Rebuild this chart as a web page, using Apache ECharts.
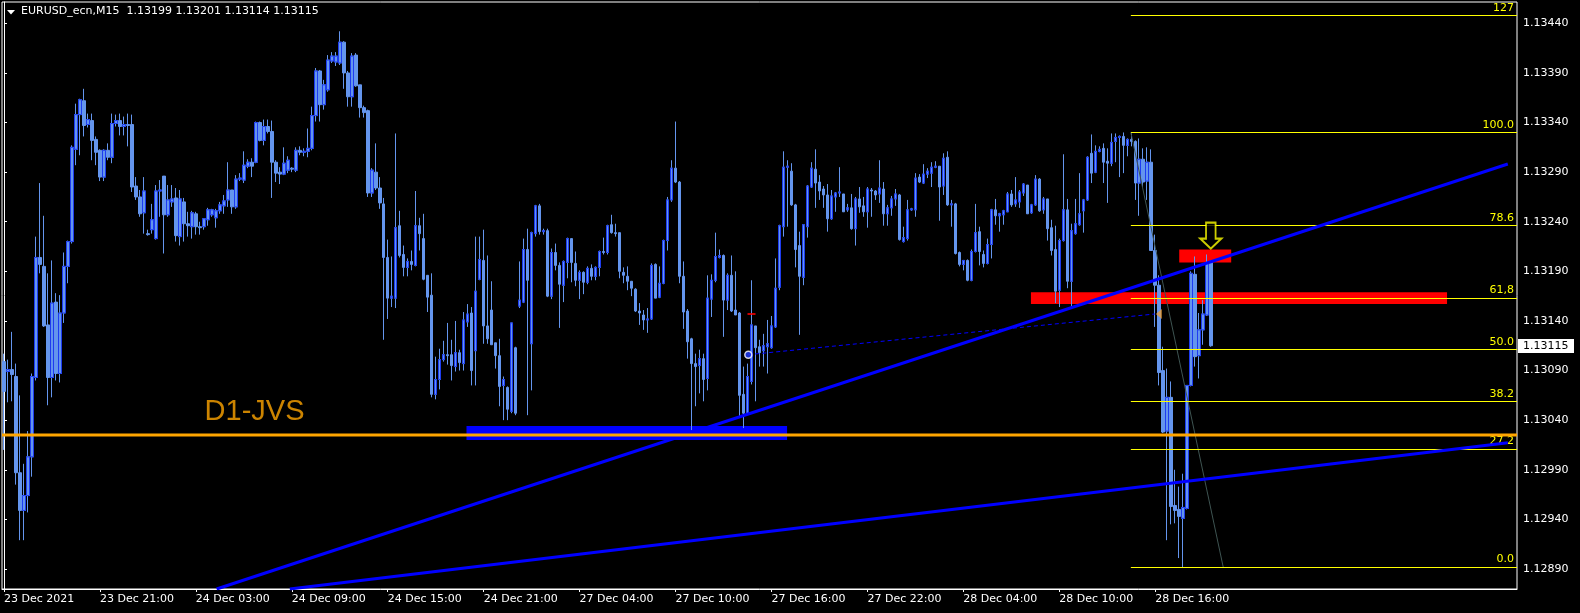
<!DOCTYPE html>
<html>
<head>
<meta charset="utf-8">
<script src="https://cdn.jsdelivr.net/npm/echarts@6/dist/echarts.min.js"></script>
<style>
html,body{margin:0;padding:0;background:#000;overflow:hidden;}
#c{width:1580px;height:613px;}
</style>
</head>
<body>
<div id="c"></div>
<script>
// ---------------- DATA ----------------
const symbolTitle = 'EURUSD_ecn,M15  1.13199 1.13201 1.13114 1.13115';
const timeLabels = ['23 Dec 2021','23 Dec 21:00','24 Dec 03:00','24 Dec 09:00','24 Dec 15:00','24 Dec 21:00',
  '27 Dec 04:00','27 Dec 10:00','27 Dec 16:00','27 Dec 22:00','28 Dec 04:00','28 Dec 10:00','28 Dec 16:00'];
const barsPerLabel = 24;
const totalSlots = 379;
const priceTicks = [1.12890,1.12940,1.12990,1.13040,1.13090,1.13140,1.13190,1.13240,1.13290,1.13340,1.13390,1.13440];
const priceMin = 1.128698;
const priceMax = 1.134615;

const openP = [
1.13099,1.13089,1.13091,1.13084,1.12987,1.12949,1.12964,1.13003,1.13083,1.13204,
1.13195,1.13136,1.13083,1.13159,1.13087,1.13148,1.13195,1.13220,1.13313,1.13348,
1.13362,1.13338,1.13342,1.13323,1.13312,1.13285,1.13312,1.13305,1.13339,1.13342,
1.13336,1.13338,1.13338,1.13276,1.13265,1.13249,1.13228,1.13232,1.13223,1.13271,
1.13286,1.13247,1.13260,1.13264,1.13225,1.13260,1.13238,1.13235,1.13248,1.13235,
1.13235,1.13242,1.13247,1.13244,1.13251,1.13256,1.13262,1.13272,1.13255,1.13283,
1.13282,1.13296,1.13300,1.13300,1.13340,1.13322,1.13336,1.13331,1.13300,1.13290,
1.13288,1.13292,1.13294,1.13292,1.13312,1.13310,1.13311,1.13314,1.13347,1.13392,
1.13358,1.13373,1.13402,1.13401,1.13400,1.13421,1.13390,1.13366,1.13408,1.13378,
1.13355,1.13352,1.13269,1.13290,1.13274,1.13258,1.13204,1.13163,1.13163,1.13236,
1.13207,1.13194,1.13200,1.13196,1.13236,1.13223,1.13186,1.13166,1.13066,1.13081,
1.13101,1.13106,1.13106,1.13094,1.13108,1.13097,1.13139,1.13148,1.13110,1.13182,
1.13201,1.13135,1.13151,1.13118,1.13105,1.13075,1.13073,1.13049,1.13113,1.13155,
1.13159,1.13212,1.13117,1.13228,1.13256,1.13230,1.13231,1.13165,1.13209,1.13196,
1.13176,1.13199,1.13223,1.13198,1.13181,1.13189,1.13179,1.13193,1.13185,1.13194,
1.13210,1.13209,1.13237,1.13229,1.13229,1.13189,1.13185,1.13180,1.13172,1.13150,
1.13146,1.13141,1.13142,1.13197,1.13164,1.13178,1.13221,1.13262,1.13294,1.13280,
1.13185,1.13150,1.13122,1.13097,1.13095,1.13102,1.13082,1.13162,1.13181,1.13204,
1.13206,1.13161,1.13186,1.13151,1.13148,1.13066,1.13047,1.13079,1.13135,1.13114,
1.13110,1.13114,1.13113,1.13134,1.13174,1.13235,1.13295,1.13291,1.13257,1.13216,
1.13184,1.13235,1.13275,1.13293,1.13280,1.13273,1.13267,1.13243,1.13265,1.13269,
1.13268,1.13252,1.13254,1.13233,1.13263,1.13256,1.13250,1.13272,1.13271,1.13268,
1.13273,1.13248,1.13254,1.13263,1.13267,1.13220,1.13223,1.13252,1.13252,1.13285,
1.13279,1.13288,1.13289,1.13295,1.13296,1.13276,1.13305,1.13257,1.13258,1.13209,
1.13197,1.13201,1.13181,1.13210,1.13230,1.13207,1.13198,1.13217,1.13252,1.13246,
1.13247,1.13250,1.13268,1.13258,1.13260,1.13269,1.13277,1.13249,1.13257,1.13283,
1.13252,1.13263,1.13234,1.13212,1.13171,1.13221,1.13252,1.13180,1.13228,1.13237,
1.13251,1.13262,1.13309,1.13290,1.13311,1.13314,1.13301,1.13299,1.13321,1.13325,
1.13326,1.13317,1.13323,1.13321,1.13279,1.13303,1.13281,1.13300,1.13211,1.13176,
1.13090,1.13029,1.13063,1.12954,1.12950,1.12941,1.12951,1.13075,1.13187,1.13105,
1.13131,1.13146,1.13199];

const closeP = [
1.13069,1.13091,1.13086,1.12987,1.12949,1.12964,1.13003,1.13084,1.13204,1.13197,
1.13135,1.13083,1.13158,1.13087,1.13148,1.13195,1.13220,1.13315,1.13348,1.13363,
1.13337,1.13343,1.13322,1.13310,1.13285,1.13312,1.13305,1.13339,1.13342,1.13336,
1.13338,1.13337,1.13275,1.13265,1.13248,1.13271,1.13227,1.13242,1.13271,1.13272,
1.13247,1.13262,1.13263,1.13226,1.13263,1.13238,1.13236,1.13249,1.13235,1.13234,
1.13243,1.13252,1.13252,1.13251,1.13257,1.13261,1.13272,1.13255,1.13283,1.13284,
1.13297,1.13300,1.13296,1.13340,1.13322,1.13336,1.13331,1.13300,1.13289,1.13288,
1.13299,1.13302,1.13293,1.13312,1.13310,1.13311,1.13314,1.13347,1.13392,1.13358,
1.13378,1.13403,1.13407,1.13407,1.13421,1.13390,1.13366,1.13407,1.13377,1.13355,
1.13350,1.13269,1.13292,1.13274,1.13259,1.13204,1.13163,1.13165,1.13234,1.13206,
1.13194,1.13200,1.13197,1.13236,1.13228,1.13182,1.13164,1.13066,1.13081,1.13101,
1.13106,1.13105,1.13095,1.13108,1.13098,1.13141,1.13147,1.13090,1.13170,1.13202,
1.13135,1.13122,1.13116,1.13105,1.13074,1.13081,1.13051,1.13138,1.13047,1.13161,
1.13212,1.13181,1.13229,1.13256,1.13230,1.13231,1.13165,1.13209,1.13196,1.13177,
1.13200,1.13223,1.13199,1.13181,1.13189,1.13179,1.13193,1.13185,1.13194,1.13210,
1.13209,1.13236,1.13229,1.13228,1.13190,1.13186,1.13180,1.13173,1.13150,1.13148,
1.13141,1.13142,1.13196,1.13163,1.13178,1.13221,1.13262,1.13294,1.13280,1.13185,
1.13149,1.13119,1.13097,1.13094,1.13102,1.13081,1.13163,1.13181,1.13205,1.13206,
1.13161,1.13186,1.13150,1.13146,1.13065,1.13047,1.13084,1.13136,1.13113,1.13108,
1.13115,1.13117,1.13135,1.13173,1.13236,1.13295,1.13296,1.13257,1.13212,1.13185,
1.13237,1.13276,1.13294,1.13279,1.13271,1.13267,1.13243,1.13266,1.13269,1.13270,
1.13250,1.13254,1.13233,1.13263,1.13255,1.13250,1.13273,1.13271,1.13267,1.13274,
1.13248,1.13254,1.13263,1.13268,1.13222,1.13224,1.13252,1.13253,1.13284,1.13280,
1.13288,1.13291,1.13295,1.13296,1.13275,1.13304,1.13257,1.13258,1.13208,1.13197,
1.13201,1.13181,1.13210,1.13229,1.13210,1.13198,1.13217,1.13252,1.13246,1.13248,
1.13251,1.13268,1.13257,1.13262,1.13270,1.13278,1.13248,1.13257,1.13283,1.13251,
1.13263,1.13233,1.13211,1.13170,1.13221,1.13252,1.13180,1.13231,1.13238,1.13248,
1.13262,1.13305,1.13289,1.13311,1.13313,1.13300,1.13299,1.13320,1.13325,1.13326,
1.13317,1.13323,1.13321,1.13279,1.13303,1.13280,1.13300,1.13211,1.13176,1.13088,
1.13028,1.13063,1.12953,1.12949,1.12943,1.12952,1.13075,1.13188,1.13104,1.13131,
1.13147,1.13198,1.13115];

const lowP = [
1.13010,1.13058,1.13059,1.12975,1.12919,1.12919,1.12947,1.12983,1.13080,1.13188,
1.13134,1.13055,1.13063,1.13080,1.13078,1.13138,1.13178,1.13218,1.13297,1.13307,
1.13326,1.13335,1.13302,1.13297,1.13281,1.13281,1.13302,1.13299,1.13336,1.13327,
1.13327,1.13316,1.13270,1.13262,1.13245,1.13228,1.13226,1.13228,1.13222,1.13245,
1.13208,1.13245,1.13255,1.13220,1.13216,1.13220,1.13225,1.13223,1.13227,1.13227,
1.13232,1.13236,1.13245,1.13234,1.13248,1.13248,1.13255,1.13248,1.13253,1.13281,
1.13279,1.13294,1.13285,1.13299,1.13321,1.13317,1.13329,1.13264,1.13280,1.13278,
1.13287,1.13289,1.13290,1.13290,1.13307,1.13306,1.13305,1.13312,1.13341,1.13341,
1.13353,1.13371,1.13400,1.13397,1.13398,1.13374,1.13356,1.13356,1.13376,1.13345,
1.13345,1.13265,1.13265,1.13272,1.13253,1.13121,1.13142,1.13154,1.13153,1.13204,
1.13185,1.13185,1.13191,1.13195,1.13211,1.13181,1.13149,1.13063,1.13061,1.13071,
1.13099,1.13096,1.13080,1.13089,1.13090,1.13090,1.13134,1.13075,1.13075,1.13181,
1.13117,1.13117,1.13116,1.13092,1.13054,1.13040,1.13040,1.13047,1.13045,1.13153,
1.13158,1.13045,1.13070,1.13225,1.13227,1.13227,1.13164,1.13162,1.13191,1.13133,
1.13159,1.13183,1.13179,1.13175,1.13162,1.13167,1.13177,1.13181,1.13181,1.13185,
1.13207,1.13207,1.13228,1.13225,1.13183,1.13178,1.13171,1.13165,1.13149,1.13136,
1.13131,1.13128,1.13141,1.13163,1.13163,1.13177,1.13211,1.13260,1.13279,1.13178,
1.13132,1.13102,1.13030,1.13054,1.13067,1.13059,1.13070,1.13144,1.13179,1.13203,
1.13124,1.13151,1.13149,1.13146,1.13043,1.13032,1.13047,1.13076,1.13059,1.13094,
1.13094,1.13087,1.13112,1.13133,1.13171,1.13225,1.13235,1.13256,1.13194,1.13126,
1.13176,1.13224,1.13274,1.13254,1.13262,1.13254,1.13230,1.13242,1.13250,1.13265,
1.13250,1.13250,1.13232,1.13216,1.13249,1.13245,1.13234,1.13245,1.13262,1.13259,
1.13236,1.13236,1.13246,1.13256,1.13221,1.13219,1.13221,1.13251,1.13245,1.13279,
1.13278,1.13284,1.13275,1.13294,1.13241,1.13267,1.13256,1.13235,1.13207,1.13195,
1.13191,1.13180,1.13180,1.13209,1.13196,1.13194,1.13197,1.13203,1.13237,1.13230,
1.13237,1.13250,1.13255,1.13255,1.13254,1.13266,1.13248,1.13248,1.13256,1.13250,
1.13248,1.13221,1.13206,1.13158,1.13154,1.13220,1.13173,1.13154,1.13227,1.13236,
1.13229,1.13261,1.13279,1.13289,1.13310,1.13279,1.13259,1.13296,1.13300,1.13285,
1.13289,1.13306,1.13316,1.13262,1.13246,1.13275,1.13262,1.13211,1.13134,1.13075,
1.13027,1.12919,1.12935,1.12936,1.12901,1.12892,1.12950,1.13074,1.13094,1.13082,
1.13116,1.13145,1.13114];

const highP = [
1.13107,1.13101,1.13129,1.13097,1.13065,1.12996,1.13029,1.13087,1.13225,1.13279,
1.13246,1.13188,1.13201,1.13168,1.13166,1.13209,1.13221,1.13317,1.13359,1.13364,
1.13374,1.13349,1.13349,1.13326,1.13313,1.13313,1.13319,1.13349,1.13348,1.13349,
1.13346,1.13349,1.13348,1.13285,1.13272,1.13285,1.13232,1.13258,1.13277,1.13282,
1.13286,1.13277,1.13277,1.13274,1.13272,1.13264,1.13250,1.13251,1.13250,1.13240,
1.13243,1.13254,1.13253,1.13253,1.13260,1.13267,1.13300,1.13272,1.13287,1.13289,
1.13311,1.13303,1.13304,1.13341,1.13341,1.13343,1.13343,1.13342,1.13302,1.13295,
1.13315,1.13306,1.13295,1.13315,1.13316,1.13314,1.13334,1.13356,1.13395,1.13393,
1.13383,1.13408,1.13411,1.13411,1.13432,1.13422,1.13392,1.13410,1.13410,1.13378,
1.13357,1.13353,1.13294,1.13319,1.13285,1.13264,1.13222,1.13205,1.13329,1.13251,
1.13216,1.13203,1.13211,1.13271,1.13244,1.13248,1.13186,1.13188,1.13104,1.13112,
1.13120,1.13138,1.13121,1.13140,1.13111,1.13149,1.13157,1.13154,1.13225,1.13225,
1.13232,1.13206,1.13180,1.13118,1.13122,1.13084,1.13074,1.13138,1.13114,1.13200,
1.13223,1.13233,1.13230,1.13257,1.13258,1.13233,1.13233,1.13213,1.13218,1.13199,
1.13201,1.13224,1.13223,1.13210,1.13191,1.13190,1.13195,1.13197,1.13195,1.13211,
1.13224,1.13237,1.13247,1.13238,1.13229,1.13194,1.13195,1.13180,1.13173,1.13158,
1.13151,1.13153,1.13198,1.13198,1.13195,1.13222,1.13265,1.13302,1.13341,1.13281,
1.13200,1.13152,1.13123,1.13107,1.13111,1.13107,1.13186,1.13187,1.13229,1.13212,
1.13207,1.13188,1.13206,1.13190,1.13149,1.13094,1.13097,1.13181,1.13135,1.13121,
1.13127,1.13141,1.13145,1.13203,1.13237,1.13311,1.13302,1.13299,1.13258,1.13230,
1.13237,1.13277,1.13300,1.13313,1.13287,1.13276,1.13278,1.13272,1.13270,1.13295,
1.13268,1.13258,1.13268,1.13265,1.13275,1.13265,1.13275,1.13274,1.13272,1.13302,
1.13280,1.13257,1.13266,1.13273,1.13268,1.13235,1.13262,1.13254,1.13289,1.13288,
1.13298,1.13294,1.13300,1.13301,1.13296,1.13309,1.13311,1.13262,1.13259,1.13210,
1.13201,1.13202,1.13212,1.13258,1.13235,1.13211,1.13223,1.13253,1.13263,1.13249,
1.13252,1.13270,1.13272,1.13285,1.13272,1.13279,1.13277,1.13258,1.13287,1.13284,
1.13265,1.13263,1.13242,1.13236,1.13223,1.13308,1.13263,1.13238,1.13263,1.13289,
1.13263,1.13306,1.13328,1.13317,1.13316,1.13319,1.13314,1.13329,1.13329,1.13327,
1.13330,1.13324,1.13329,1.13322,1.13324,1.13314,1.13315,1.13313,1.13227,1.13186,
1.13114,1.13092,1.13079,1.12990,1.12973,1.12986,1.13075,1.13190,1.13205,1.13148,
1.13161,1.13207,1.13201];

// Fibonacci retracement drawn on the chart
const fibNames  = ['127','100.0','78.6','61,8','50.0','38.2','27.2','0.0'];
const fibPrices = [1.13448,1.13330,1.13236,1.13163,1.13111,1.13059,1.13011,1.12892];
const fibFromBar = 281.9;
const fibTrend = [[281.9,1.13330],[305.0,1.12892]];

// Objects (bar position, price)
const d1Price = 1.13025;
const d1Text = 'D1-JVS';
const d1LabelAt = [50.3, 1.130477];
const trendA = [[53.2,1.128698],[376.2,1.132982]];
const trendB = [[71.5,1.128698],[376.2,1.130173]];
const blueZone = [[115.7,1.13034],[195.9,1.13020]];
const redZoneBig = [[256.9,1.13169],[361.0,1.13157]];
const redZoneSmall = [[294.0,1.13212],[307.0,1.13199]];
const dottedLine = [[186.2,1.13106],[287.9,1.13147]];
const arrowAt = [301.9, 1.13226];
const redTickAt = [187.0, 1.13147];
const lastClose = 1.13115;

// ---------------- CHART ----------------
const chart = echarts.init(document.getElementById('c'), null, {renderer:'canvas', width:1580, height:613});
const slots = Array.from({length: totalSlots}, (_, i) => String(i));
const candleData = openP.map((o, i) => [o, closeP[i], lowP[i], highP[i]]);
const bullBodies = openP.map((o, i) => closeP[i] > o ? [o, closeP[i], o, closeP[i]] : ['-','-','-','-']);
const showTick = (i) => i % barsPerLabel === 0 && (i / barsPerLabel) < timeLabels.length;
const FONT = 'DejaVu Sans';
const LIGHT = '#6495ED';

const fibLineData = fibPrices.map((p, k) => [
  {coord:[fibFromBar, p], name: fibNames[k]},
  {coord:[totalSlots - 0.5, p]}
]);

const option = {
  backgroundColor: '#000',
  animation: false,
  grid: {left: 2, top: 2, width: 1515, height: 587, show: true, borderColor: '#fff', borderWidth: 1, backgroundColor: 'transparent'},
  xAxis: [{
    type: 'category', data: slots, boundaryGap: true,
    axisLine: {show: true, lineStyle: {color: '#fff', width: 1}},
    axisTick: {show: true, alignWithLabel: true, length: 3, interval: showTick, lineStyle: {color: '#fff'}},
    axisLabel: {show: true, interval: showTick, color: '#fff', fontFamily: FONT, fontSize: 11, align: 'left', margin: 5,
      formatter: (v, i) => timeLabels[i / barsPerLabel] || ''},
    splitLine: {show: false}
  }, {
    type: 'value', min: -0.5, max: totalSlots - 0.5, show: false, gridIndex: 0
  }],
  yAxis: [{
    type: 'value', position: 'right', min: priceMin, max: priceMax,
    splitLine: {show: false},
    axisLine: {show: true, lineStyle: {color: '#fff', width: 1}},
    axisTick: {show: true, length: 3, lineStyle: {color: '#fff'}, customValues: priceTicks},
    axisLabel: {show: true, color: '#fff', fontFamily: FONT, fontSize: 11, margin: 6, customValues: priceTicks,
      formatter: (v) => v.toFixed(5)}
  }],
  series: [
    { // zones (behind candles)
      type: 'line', xAxisIndex: 1, yAxisIndex: 0, data: [], z: 1, silent: true,
      markArea: {silent: true, data: [
        [{coord: redZoneBig[0], itemStyle: {color: '#FF0000', opacity: 1}}, {coord: redZoneBig[1]}],
        [{coord: redZoneSmall[0], itemStyle: {color: '#FF0000', opacity: 1}}, {coord: redZoneSmall[1]}],
        [{coord: blueZone[0], itemStyle: {color: '#0000FF', opacity: 1}}, {coord: blueZone[1]}]
      ]}
    },
    {
      type: 'candlestick', xAxisIndex: 0, yAxisIndex: 0, data: candleData, barWidth: 3, z: 2, silent: true,
      itemStyle: {color: LIGHT, color0: LIGHT, borderColor: LIGHT, borderColor0: LIGHT, borderColorDoji: LIGHT, borderWidth: 1}
    },
    {
      type: 'candlestick', xAxisIndex: 0, yAxisIndex: 0, data: bullBodies, barWidth: 3, z: 3, silent: true,
      itemStyle: {color: LIGHT, color0: LIGHT, borderColor: '#1E3CF0', borderColor0: '#1E3CF0', borderWidth: 1}
    },
    { // fib trend (diagonal)
      type: 'line', xAxisIndex: 1, yAxisIndex: 0, data: fibTrend, symbol: 'none', z: 4, silent: true,
      lineStyle: {color: '#3E5452', width: 1}
    },
    { // fib levels
      type: 'line', xAxisIndex: 1, yAxisIndex: 0, data: [], z: 5, silent: true,
      markLine: {silent: true, symbol: ['none','none'],
        lineStyle: {color: '#FFFF00', width: 1, type: 'solid'},
        label: {show: true, position: 'insideEndTop', formatter: '{b}', color: '#FFFF00', fontFamily: FONT, fontSize: 11, distance: [3, 2]},
        data: fibLineData}
    },
    {
      type: 'line', xAxisIndex: 1, yAxisIndex: 0, data: trendA, symbol: 'none', z: 6, silent: true,
      lineStyle: {color: '#0000FF', width: 3}
    },
    {
      type: 'line', xAxisIndex: 1, yAxisIndex: 0, data: trendB, symbol: 'none', z: 6, silent: true,
      lineStyle: {color: '#0000FF', width: 3}
    },
    {
      type: 'line', xAxisIndex: 1, yAxisIndex: 0, data: dottedLine, symbol: 'none', z: 6, silent: true,
      lineStyle: {color: '#0000FF', width: 1, type: [4, 3]}
    },
    { // D1 level
      type: 'line', xAxisIndex: 1, yAxisIndex: 0, data: [[-0.5, d1Price], [totalSlots - 0.5, d1Price]], symbol: 'none', z: 7, silent: true,
      lineStyle: {color: '#FFA500', width: 3}
    },
    { // D1 label
      type: 'scatter', xAxisIndex: 1, yAxisIndex: 0, data: [d1LabelAt], symbolSize: 1, z: 7, silent: true,
      itemStyle: {color: 'rgba(0,0,0,0)'},
      label: {show: true, formatter: d1Text, position: [0, 0], align: 'left', verticalAlign: 'middle',
        color: '#FFA500', fontFamily: 'Liberation Sans', fontSize: 29}
    },
    { // start marker of dotted line
      type: 'scatter', xAxisIndex: 1, yAxisIndex: 0, data: [dottedLine[0]], symbol: 'circle', symbolSize: 7, z: 8, silent: true,
      itemStyle: {color: '#1E3CFF', borderColor: '#FFFFFF', borderWidth: 1.5}
    },
    { // end marker of dotted line
      type: 'scatter', xAxisIndex: 1, yAxisIndex: 0, data: [dottedLine[1]], symbol: 'path://M0,5 L8,0 L8,10 Z',
      symbolSize: [6, 10], symbolOffset: [4, 0], z: 8, silent: true,
      itemStyle: {color: '#E8A040'}
    },
    { // red tick
      type: 'scatter', xAxisIndex: 1, yAxisIndex: 0, data: [redTickAt], symbol: 'rect', symbolSize: [8, 2], z: 8, silent: true,
      itemStyle: {color: '#FF0000'}
    },
    { // down arrow
      type: 'scatter', xAxisIndex: 1, yAxisIndex: 0, data: [arrowAt],
      symbol: 'path://M6,0 L16,0 L16,16 L22,16 L11,26 L0,16 L6,16 Z', symbolSize: [21, 26], z: 9, silent: true,
      itemStyle: {color: '#000000', borderColor: '#FFFF00', borderWidth: 2}
    }
  ]
};
chart.setOption(option);

// price tag + title
const yTag = chart.convertToPixel({yAxisIndex: 0}, lastClose);
chart.setOption({
  graphic: [
    {type: 'polygon', shape: {points: [[7, 10], [15, 10], [11, 14.5]]}, style: {fill: '#fff'}, silent: true},
    {type: 'text', left: 21, top: 6, style: {text: symbolTitle, fill: '#fff', font: '11px "DejaVu Sans"'}, silent: true},
    {type: 'rect', shape: {x: 1518, y: Math.round(yTag) - 7, width: 56, height: 14}, style: {fill: '#fff'}, silent: true, z: 100},
    {type: 'text', x: 1523, y: Math.round(yTag), style: {text: lastClose.toFixed(5), fill: '#000', font: '11px "DejaVu Sans"', verticalAlign: 'middle'}, silent: true, z: 101}
  ]
});
</script>
</body>
</html>
